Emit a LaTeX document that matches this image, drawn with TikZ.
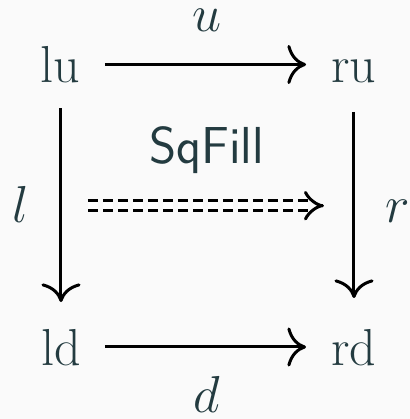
\RequirePackage{fix-cm}
\documentclass[tikz,border=0pt]{standalone}
\usetikzlibrary{cd,calc}
\definecolor{txt}{HTML}{233B40}
\definecolor{bg}{HTML}{FAFAFA}
\begin{document}
\begin{tikzpicture}[x=0.5pt,y=0.5pt,
 lbl/.style={inner sep=0pt,anchor=base,text=txt,font=\fontsize{26}{31}\selectfont},
 arr/.style={line width=1.5pt,-{cm to}},
 darr/.style={line width=1.5pt,double,double distance=3.5pt,dash pattern=on 5pt off 2.5pt,-{cm implies}}]
\fill[bg] (0,0) rectangle (410,419);
\useasboundingbox (0,0) rectangle (410,419);
\node[lbl] (lu) at (60.5,336) {lu};
\node[lbl] (ru) at (354,336) {ru};
\node[lbl] (ld) at (61,54) {ld};
\node[lbl] (rd) at (353.5,54) {rd};
\node[lbl] (u) at (206.5,387) {$u$};
\node[lbl] (d) at (207,6) {$d$};
\node[lbl] (l) at (21,197) {$l$};
\node[lbl] (r) at (398,197) {$r$};
\node[lbl,font=\fontsize{26}{31}\selectfont\sffamily] (sq) at (206.5,256) {SqFill};
\coordinate (fa) at (88,213.3);
\coordinate (fb) at (324,213.3);
\draw[arr] ($(lu.base)+(44.5,18.5)$) -- ($(ru.base)+(-48,18.5)$);
\draw[arr] ($(ld.base)+(44,18)$) -- ($(rd.base)+(-47.5,18)$);
\draw[arr] ($(lu.base)+(0.5,-25)$) -- ($(ld.base)+(0,63)$);
\draw[arr] ($(ru.base)+(0,-29)$) -- ($(rd.base)+(0.5,67)$);
\draw[darr] (fa) -- (fb);
\end{tikzpicture}
\end{document}
